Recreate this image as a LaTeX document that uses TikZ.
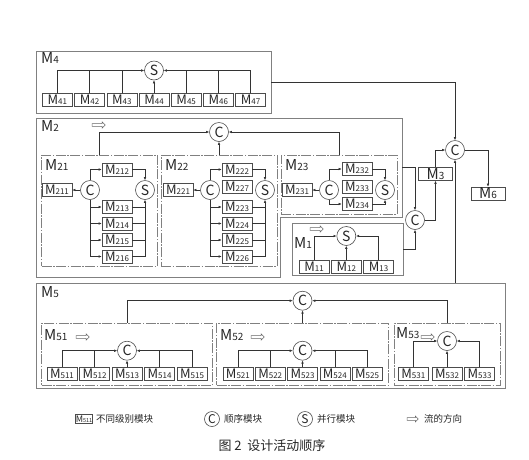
\documentclass[tikz,border=0pt]{standalone}
\usepackage{fontspec}
\setmainfont{Noto Sans CJK SC}
\usetikzlibrary{arrows.meta,shapes.arrows}
\newcommand\ml[1]{M{\fontsize{8}{8}\selectfont #1}}
\newcommand\bl[1]{M{\fontsize{10}{10}\selectfont #1}}
\tikzset{
  mod/.style={draw=black!70, line width=0.6pt, minimum width=30pt, minimum height=13pt, inner sep=0pt, font=\fontsize{13}{13}\selectfont, text=black!85},
  cnode/.style={circle, draw=black!70, line width=0.6pt, minimum size=19pt, inner sep=0pt, font=\fontsize{14}{14}\selectfont, text=black!85},
  con/.style={draw=black!80, line width=0.55pt},
  arr/.style={con, -{Latex[length=3pt,width=2.6pt]}},
  outerbox/.style={draw=black!50, line width=0.8pt, inner sep=0pt},
  subbox/.style={draw=black!50, line width=0.6pt, inner sep=0pt, dash pattern=on 10pt off 1.5pt on 1.5pt off 1.5pt},
  grplab/.style={font=\fontsize{15}{15}\selectfont, anchor=west, inner sep=0pt, text=black!85},
  flowarr/.style={single arrow, draw=black!60, line width=0.5pt, minimum height=13pt, minimum width=6pt, inner sep=1.2pt, single arrow head extend=1.5pt, single arrow head indent=0pt},
  legtxt/.style={font=\fontsize{9.5}{9.5}\selectfont, anchor=west, inner sep=0pt, text=black!85},
}
\begin{document}
\begin{tikzpicture}[x=1pt,y=-1pt]
\useasboundingbox (0,0) rectangle (529,459);

% ---------------- M4 ----------------
\node[outerbox, minimum width=235pt, minimum height=62pt] (o4) at (153.5,82) {};
\node[grplab] (l4) at (41,58) {\bl{4}};
\node[cnode] (s4) at (154,70.5) {S};
\foreach \i/\x in {1/57.4,2/89.6,3/121.8,4/154,5/186.2,6/218.4,7/250.6}
  \node[mod] (m4\i) at (\x,100) {\ml{4\i}};
\draw[arr] (m41.north) |- (s4.west);
\draw[con] (m42.north) -- (m42.north |- s4.west);
\draw[con] (m43.north) -- (m43.north |- s4.west);
\draw[arr] (m44.north) -- (s4.south);
\draw[con] (m45.north) -- (m45.north |- s4.east);
\draw[con] (m46.north) -- (m46.north |- s4.east);
\draw[arr] (m47.north) |- (s4.east);

% ---------------- M2 ----------------
\draw[outerbox] (36,118) -- (402,118) -- (402,217) -- (280,217) -- (280,277) -- (36,277) -- cycle;
\coordinate (o2r) at (402,167);
\node[grplab] (l2) at (41,126) {\bl{2}};
\node[flowarr] (f2) at (98,125) {};
\node[cnode] (c2) at (219,132) {C};
\node[subbox, minimum width=116pt, minimum height=111pt] (b21) at (99.5,210.5) {};
\node[subbox, minimum width=116pt, minimum height=111pt] (b22) at (219,210.5) {};
\node[subbox, minimum width=116pt, minimum height=59pt] (b23) at (339,184.5) {};
\draw[arr] (b21.north) |- (c2.west);
\draw[arr] (b23.north) |- (c2.east);
\draw[arr] (b22.north) -- (c2.south);

% M21
\node[grplab] (l21) at (45,165) {\bl{21}};
\node[cnode] (c21) at (90,190) {C};
\node[cnode] (s21) at (145,190) {S};
\node[mod] (m211) at (57,190) {\ml{211}};
\node[mod] (m212) at (117,169.5) {\ml{212}};
\node[mod] (m213) at (117,207) {\ml{213}};
\node[mod] (m214) at (117,223.5) {\ml{214}};
\node[mod] (m215) at (117,240) {\ml{215}};
\node[mod] (m216) at (117,256.5) {\ml{216}};
\draw[arr] (c21.west) -- (m211.east);
\draw[arr] (c21.north) |- (m212.west);
\draw[arr] (m212.east) -| (s21.north);
\draw[arr] (c21.south) |- (m216.west);
\foreach \k in {213,214,215} {
  \draw[arr] (c21.south |- m\k.west) -- (m\k.west);
  \draw[con] (m\k.east) -- (s21.south |- m\k.east);
}
\draw[arr] (m216.east) -| (s21.south);

% M22
\node[grplab] (l22) at (165,165) {\bl{22}};
\node[cnode] (c22) at (210,190) {C};
\node[cnode] (s22) at (265,190) {S};
\node[mod] (m221) at (178,190) {\ml{221}};
\node[mod] (m222) at (237,169.5) {\ml{222}};
\node[mod] (m227) at (237,187) {\ml{227}};
\node[mod] (m223) at (237,207) {\ml{223}};
\node[mod] (m224) at (237,223.5) {\ml{224}};
\node[mod] (m225) at (237,240) {\ml{225}};
\node[mod] (m226) at (237,256.5) {\ml{226}};
\draw[arr] (c22.west) -- (m221.east);
\draw[arr] (c22.north) |- (m222.west);
\draw[arr] (m222.east) -| (s22.north);
\draw[arr] (c22.south) |- (m226.west);
\foreach \k in {223,224,225} {
  \draw[arr] (c22.south |- m\k.west) -- (m\k.west);
  \draw[con] (m\k.east) -- (s22.south |- m\k.east);
}
\draw[arr] (m226.east) -| (s22.south);

% M23
\node[grplab] (l23) at (285,165) {\bl{23}};
\node[cnode] (c23) at (329,190) {C};
\node[cnode] (s23) at (385,190) {S};
\node[mod] (m231) at (297,190) {\ml{231}};
\node[mod] (m232) at (357,169) {\ml{232}};
\node[mod] (m233) at (357,186.5) {\ml{233}};
\node[mod] (m234) at (357,204) {\ml{234}};
\draw[arr] (c23.west) -- (m231.east);
\draw[arr] (c23.north) |- (m232.west);
\draw[arr] (m232.east) -| (s23.north);
\draw[arr] (c23.south) |- (m234.west);
\draw[arr] (m234.east) -| (s23.south);

% ---------------- M1 ----------------
\node[outerbox, minimum width=111pt, minimum height=52pt] (o1) at (347.5,249) {};
\node[grplab] (l1) at (294,243) {\bl{1}};
\node[flowarr] (f1) at (316,229) {};
\node[cnode] (s1) at (346.3,236) {S};
\node[mod] (m11) at (314,267) {\ml{11}};
\node[mod] (m12) at (346.3,267) {\ml{12}};
\node[mod] (m13) at (378.6,267) {\ml{13}};
\draw[arr] (m11.north) |- (s1.west);
\draw[arr] (m12.north) -- (s1.south);
\draw[arr] (m13.north) |- (s1.east);

% ---------------- right side ----------------
\node[cnode] (c1) at (415,220) {C};
\node[cnode] (ctop) at (455,150) {C};
\node[mod, minimum width=34pt, font=\fontsize{15}{15}\selectfont] (m3) at (435.5,174) {\bl{3}};
\node[mod, minimum width=34pt, font=\fontsize{15}{15}\selectfont] (m6) at (488,193.5) {\bl{6}};
\draw[arr] (o2r) -| (c1.north);
\draw[arr] (o1.east) -| (c1.south);
\draw[arr] (c1.east) -| (m3.south);
\draw[arr] (m3.north) |- (ctop.west);
\draw[arr] (ctop.east) -| (m6.north);
\draw[arr] (o4.east) -| (ctop.north);

% ---------------- M5 ----------------
\node[outerbox, minimum width=469pt, minimum height=105pt] (o5) at (270.5,335.5) {};
\draw[arr] (o5.north -| ctop.south) -- (ctop.south);
\node[grplab] (l5) at (41,292) {\bl{5}};
\node[cnode] (c5) at (302.5,300.7) {C};
\node[subbox, minimum width=171pt, minimum height=62pt] (b51) at (127,354) {};
\node[subbox, minimum width=172pt, minimum height=62pt] (b52) at (302.5,354) {};
\node[subbox, minimum width=106pt, minimum height=62pt] (b53) at (447,354) {};
\draw[arr] (b51.north) |- (c5.west);
\draw[arr] (b53.north) |- (c5.east);
\draw[arr] (b52.north) -- (c5.south);

% M51
\node[grplab] (l51) at (44,335) {\bl{51}};
\node[flowarr] (f51) at (82,337) {};
\node[cnode] (c51) at (127,350.7) {C};
\foreach \i/\x in {1/62,2/94.5,3/127,4/159.5,5/192}
  \node[mod] (m51\i) at (\x,373.3) {\ml{51\i}};
\draw[arr] (m511.north) |- (c51.west);
\draw[con] (m512.north) -- (m512.north |- c51.west);
\draw[arr] (m513.north) -- (c51.south);
\draw[con] (m514.north) -- (m514.north |- c51.east);
\draw[arr] (m515.north) |- (c51.east);

% M52
\node[grplab] (l52) at (220,335) {\bl{52}};
\node[flowarr] (f52) at (257,337) {};
\node[cnode] (c52) at (302.5,350.7) {C};
\foreach \i/\x in {1/237.9,2/270.2,3/302.5,4/334.8,5/367.1}
  \node[mod] (m52\i) at (\x,373.3) {\ml{52\i}};
\draw[arr] (m521.north) |- (c52.west);
\draw[con] (m522.north) -- (m522.north |- c52.west);
\draw[arr] (m523.north) -- (c52.south);
\draw[con] (m524.north) -- (m524.north |- c52.east);
\draw[arr] (m525.north) |- (c52.east);

% M53
\node[grplab] (l53) at (396,333) {\bl{53}};
\node[flowarr] (f53) at (427,337) {};
\node[cnode] (c53) at (447,341) {C};
\foreach \i/\x in {1/413.3,2/447,3/479.5}
  \node[mod] (m53\i) at (\x,373.3) {\ml{53\i}};
\draw[arr] (m531.north) |- (c53.west);
\draw[arr] (m532.north) -- (c53.south);
\draw[arr] (m533.north) |- (c53.east);

% ---------------- legend ----------------
\node[mod, minimum width=16pt, minimum height=9pt, font=\fontsize{9}{9}\selectfont] (lgm) at (84,419) {M{\fontsize{5.5}{5.5}\selectfont 511}};
\node[legtxt] (lgt1) at (96,419) {不同级别模块};
\node[cnode, minimum size=15pt, font=\fontsize{12}{12}\selectfont] (lgc) at (212,419) {C};
\node[legtxt] (lgt2) at (224,419) {顺序模块};
\node[cnode, minimum size=15pt, font=\fontsize{12}{12}\selectfont] (lgs) at (305,419) {S};
\node[legtxt] (lgt3) at (317,419) {并行模块};
\node[flowarr, minimum height=11pt, minimum width=5pt] (lgf) at (412,419) {};
\node[legtxt] (lgt4) at (424,419) {流的方向};

\node[font=\fontsize{13}{13}\selectfont, text=black!85] (cap) at (272,446) {图 2\ \ 设计活动顺序};
\end{tikzpicture}
\end{document}
